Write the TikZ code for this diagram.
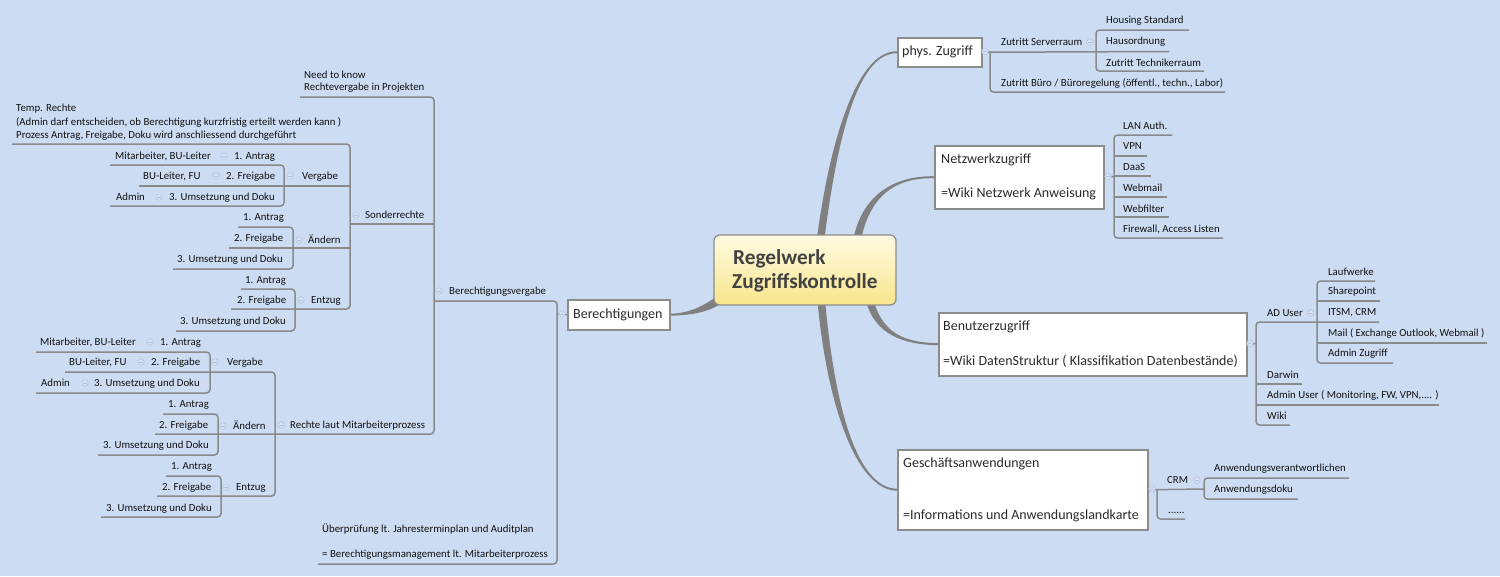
\documentclass[tikz,border=0pt]{standalone}
\usepackage{fontspec}
\setmainfont{Carlito}
\usetikzlibrary{calc}
\definecolor{bgc}{HTML}{CBDCF3}
\definecolor{linec}{HTML}{8A8A8A}
\definecolor{branchc}{HTML}{808080}
\definecolor{boxc}{HTML}{8C8C8C}
\definecolor{txtc}{HTML}{111111}
\definecolor{boxtxt}{HTML}{2B2B2B}
\definecolor{cirD}{HTML}{B2C3DC}
\definecolor{cirF}{HTML}{D5E2F5}
\definecolor{cenTop}{HTML}{FFFBE3}
\definecolor{cenBot}{HTML}{F8E58C}
\definecolor{cenTxt}{HTML}{424242}
\newcommand\T[4]{\node[smalltxt] (#1) at (#2,#3+3.7) {#4};}
\newcommand\BT[4]{\node[boxtxtst] (#1) at (#2,#3+4.8) {#4};}
\newcommand\CC[3]{\node[colc] (#1) at (#2,#3) {}; \draw[cirD,line width=0.5pt] ($(#1)+(-1.6,0)$) -- ($(#1)+(1.6,0)$);}
\newcommand\taper[6]{%
  \fill[branchc] ($(#1)!#5!90:(#2)$) .. controls ($(#2)!#5!-90:(#1)$) and ($(#3)!#6!90:(#4)$) .. ($(#4)!#6!-90:(#3)$)
    -- ($(#4)!#6!90:(#3)$) .. controls ($(#3)!#6!-90:(#4)$) and ($(#2)!#5!90:(#1)$) .. ($(#1)!#5!-90:(#2)$) -- cycle;}
\begin{document}
\begin{tikzpicture}[x=1pt,y=-1pt,
  ln/.style={draw=linec, line width=1.5pt, rounded corners=3.5pt},
  smalltxt/.style={anchor=base west, inner sep=0pt, font=\fontsize{10.8}{12}\selectfont, text=txtc},
  boxtxtst/.style={anchor=base west, inner sep=0pt, font=\fontsize{14}{16}\selectfont, text=boxtxt},
  boxst/.style={draw=boxc, line width=1.5pt, fill=white, anchor=north west, inner sep=0pt},
  colc/.style={circle, draw=cirD, fill=cirF, minimum size=6.5pt, inner sep=0pt, line width=0.5pt},
  centst/.style={rounded corners=6pt, draw=boxc, line width=1.2pt, top color=cenTop, bottom color=cenBot, minimum width=182pt, minimum height=70pt, inner sep=0pt},
  centtxt/.style={anchor=base west, inner sep=0pt, font=\fontsize{21.3}{23}\selectfont\bfseries, text=cenTxt}]
\fill[bgc] (0,0) rectangle (1500,576);
\useasboundingbox (0,0) rectangle (1500,576);

% ---------- left side lines ----------
\draw[ln] (300,97) -- (434,97) -- (434,434) -- (155,434);
\draw[ln] (350,224) -- (434,224);
\draw[ln] (434,301) -- (557,301) -- (557,564) -- (318,564);
% Sonderrechte
\draw[ln] (12,144) -- (350,144) -- (350,309) -- (231,309);
\draw[ln] (139,186) -- (350,186);
\draw[ln] (229,248) -- (350,248);
\draw[ln] (110,165) -- (284,165) -- (284,206) -- (110,206);
\draw[ln] (238,227) -- (293,227) -- (293,269) -- (173,269);
\draw[ln] (241,289) -- (295,289) -- (295,331) -- (176,331);
% Rechte laut Mitarbeiterprozess
\draw[ln] (65,372) -- (275,372) -- (275,496) -- (157,496);
\draw[ln] (36,352) -- (210,352) -- (210,393) -- (36,393);
\draw[ln] (163,414) -- (218,414) -- (218,455) -- (98,455);
\draw[ln] (166,476) -- (221,476) -- (221,517) -- (101,517);

% ---------- right side lines ----------
\draw[ln] (990,51) -- (990,92) -- (1225,92);
\draw[ln] (1189,30) -- (1096,30) -- (1096,71) -- (1204,71);
\draw[ln] (1172,135) -- (1114,135) -- (1114,238) -- (1223,238);
\draw[ln] (1114,156) -- (1147,156);
\draw[ln] (1114,176) -- (1151,176);
\draw[ln] (1114,197) -- (1167,197);
\draw[ln] (1114,217) -- (1169,217);
\draw[ln] (1379,322) -- (1256,322) -- (1256,425) -- (1290,425);
\draw[ln] (1256,384) -- (1302,384);
\draw[ln] (1256,405) -- (1439,405);
\draw[ln] (1375,281) -- (1317,281) -- (1317,363) -- (1393,363);
\draw[ln] (1317,301) -- (1380,301);
\draw[ln] (1317,343) -- (1487,343);
\draw[ln] (1157,489) -- (1157,519) -- (1185,519);
\draw[ln] (1349,478) -- (1204,478) -- (1204,499) -- (1298,499);

% ---------- boxes ----------
\node[boxst, minimum width=84pt, minimum height=29pt] (physB) at (897,37) {};
\node[boxst, minimum width=169pt, minimum height=63pt] (netB) at (934,145) {};
\node[boxst, minimum width=308pt, minimum height=63pt] (benB) at (938,312) {};
\node[boxst, minimum width=250pt, minimum height=80pt] (gesB) at (897,449) {};
\node[boxst, minimum width=102pt, minimum height=30pt] (berB) at (567,299) {};

% stubs from boxes to bars
\draw[ln] (physB.east) -- (1169,51.5);
\draw[ln] (netB.east) -- (1114,176.5);
\draw[ln] (benB.east) -- (1256,343.5);
\draw[ln] (gesB.east) -- (1204,489);
\draw[ln] (berB.west) -- (557,314);

% ---------- tapered branches ----------
\taper{820.5,240}{832,150}{855,51.5}{physB.west}{3.7pt}{1.0pt}
\taper{857,240}{866,195}{895,176.5}{netB.west}{3.8pt}{1.0pt}
\taper{869,298}{878,335}{905,343.5}{benB.west}{3.8pt}{1.0pt}
\taper{821,298}{830,400}{855,489}{gesB.west}{3.8pt}{1.0pt}
\taper{722,298}{705,310}{690,314}{berB.east}{4.2pt}{1.0pt}

% ---------- central node ----------
\node[centst] (cen) at (805,270) {};
\node[centtxt] (cen1) at (733,264) {Regelwerk};
\node[centtxt] (cen2) at (732,288) {Zugriffskontrolle};

% ---------- box texts ----------
\BT{physT}{902}{51}{phys. Zugriff}
\BT{netT1}{941}{159}{Netzwerkzugriff}
\BT{netT2}{941}{193}{=Wiki Netzwerk Anweisung}
\BT{benT1}{943}{326}{Benutzerzugriff}
\BT{benT2}{943}{361}{=Wiki DatenStruktur ( Klassifikation Datenbestände)}
\BT{gesT1}{903}{463}{Geschäftsanwendungen}
\BT{gesT2}{903}{515}{=Informations und Anwendungslandkarte}
\BT{berT}{573}{314}{Berechtigungen}

% ---------- left texts ----------
\T{need1}{304}{75}{Need to know}
\T{need2}{304}{87}{Rechtevergabe in Projekten}
\T{temp1}{16}{108}{Temp. Rechte}
\T{temp2}{16}{122}{(Admin darf entscheiden, ob Berechtigung kurzfristig erteilt werden kann )}
\T{temp3}{16}{135}{Prozess Antrag, Freigabe, Doku wird anschliessend durchgeführt}
\T{s1a}{115}{156}{Mitarbeiter, BU-Leiter}
\T{s1b}{234}{156}{1. Antrag}
\T{s2a}{143}{176}{BU-Leiter, FU}
\T{s2b}{226}{176}{2. Freigabe}
\T{s3a}{116}{197}{Admin}
\T{s3b}{169}{197}{3. Umsetzung und Doku}
\T{sverg}{302}{176}{Vergabe}
\T{sa1}{243}{217}{1. Antrag}
\T{sa2}{234}{238}{2. Freigabe}
\T{sa3}{177}{259}{3. Umsetzung und Doku}
\T{saend}{308}{240}{Ändern}
\T{se1}{245}{280}{1. Antrag}
\T{se2}{237}{300}{2. Freigabe}
\T{se3}{180}{321}{3. Umsetzung und Doku}
\T{sentz}{311}{300}{Entzug}
\T{sonder}{365}{215}{Sonderrechte}
\T{bvg}{449}{291}{Berechtigungsvergabe}
\T{r1a}{40}{342}{Mitarbeiter, BU-Leiter}
\T{r1b}{160}{342}{1. Antrag}
\T{r2a}{69}{362}{BU-Leiter, FU}
\T{r2b}{151}{362}{2. Freigabe}
\T{r3a}{41}{383}{Admin}
\T{r3b}{94}{383}{3. Umsetzung und Doku}
\T{rverg}{227}{362}{Vergabe}
\T{ra1}{168}{404}{1. Antrag}
\T{ra2}{159}{425}{2. Freigabe}
\T{ra3}{103}{445}{3. Umsetzung und Doku}
\T{raend}{233}{426}{Ändern}
\T{re1}{171}{466}{1. Antrag}
\T{re2}{162}{487}{2. Freigabe}
\T{re3}{106}{508}{3. Umsetzung und Doku}
\T{rentz}{236}{487}{Entzug}
\T{rechte}{290}{425}{Rechte laut Mitarbeiterprozess}
\T{ueb1}{322}{529}{Überprüfung lt. Jahresterminplan und Auditplan}
\T{ueb2}{322}{554}{= Berechtigungsmanagement lt. Mitarbeiterprozess}

% ---------- right texts ----------
\T{zs}{1001}{42}{Zutritt Serverraum}
\T{hs}{1106}{20}{Housing Standard}
\T{ho}{1106}{41}{Hausordnung}
\T{zt}{1106}{63}{Zutritt Technikerraum}
\T{zb}{1001}{83}{Zutritt Büro / Büroregelung (öffentl., techn., Labor)}
\T{lan}{1123}{126}{LAN Auth.}
\T{vpn}{1123}{146}{VPN}
\T{daas}{1123}{167}{DaaS}
\T{wm}{1123}{188}{Webmail}
\T{wf}{1123}{209}{Webfilter}
\T{fw}{1123}{229}{Firewall, Access Listen}
\T{adu}{1267}{313}{AD User}
\T{lw}{1328}{272}{Laufwerke}
\T{sp}{1328}{291}{Sharepoint}
\T{itsm}{1328}{312}{ITSM, CRM}
\T{mail}{1328}{333}{Mail ( Exchange Outlook, Webmail )}
\T{adz}{1328}{353}{Admin Zugriff}
\T{dar}{1267}{375}{Darwin}
\T{admu}{1267}{395}{Admin User ( Monitoring, FW, VPN,.... )}
\T{wiki}{1267}{416}{Wiki}
\T{crm}{1167}{480}{CRM}
\T{dots}{1168}{510}{......}
\T{av}{1214}{468}{Anwendungsverantwortlichen}
\T{ad}{1214}{489}{Anwendungsdoku}

% ---------- collapse markers ----------
\CC{c1}{224}{156} \CC{c2}{216}{176} \CC{c3}{159}{197} \CC{c4}{290}{176}
\CC{c5}{299}{240} \CC{c6}{301}{300} \CC{c7}{356}{215} \CC{c8}{439}{291}
\CC{c9}{281}{425} \CC{c10}{215}{362} \CC{c11}{223}{426} \CC{c12}{226}{487}
\CC{c13}{150}{342} \CC{c14}{141}{362} \CC{c15}{85}{383} \CC{c16}{562}{314}
\CC{c17}{985}{51.5} \CC{c18}{1090}{42} \CC{c19}{1108}{176.5} \CC{c20}{1250}{343.5}
\CC{c21}{1311}{313} \CC{c22}{1152}{489} \CC{c23}{1197}{480}
\end{tikzpicture}
\end{document}
